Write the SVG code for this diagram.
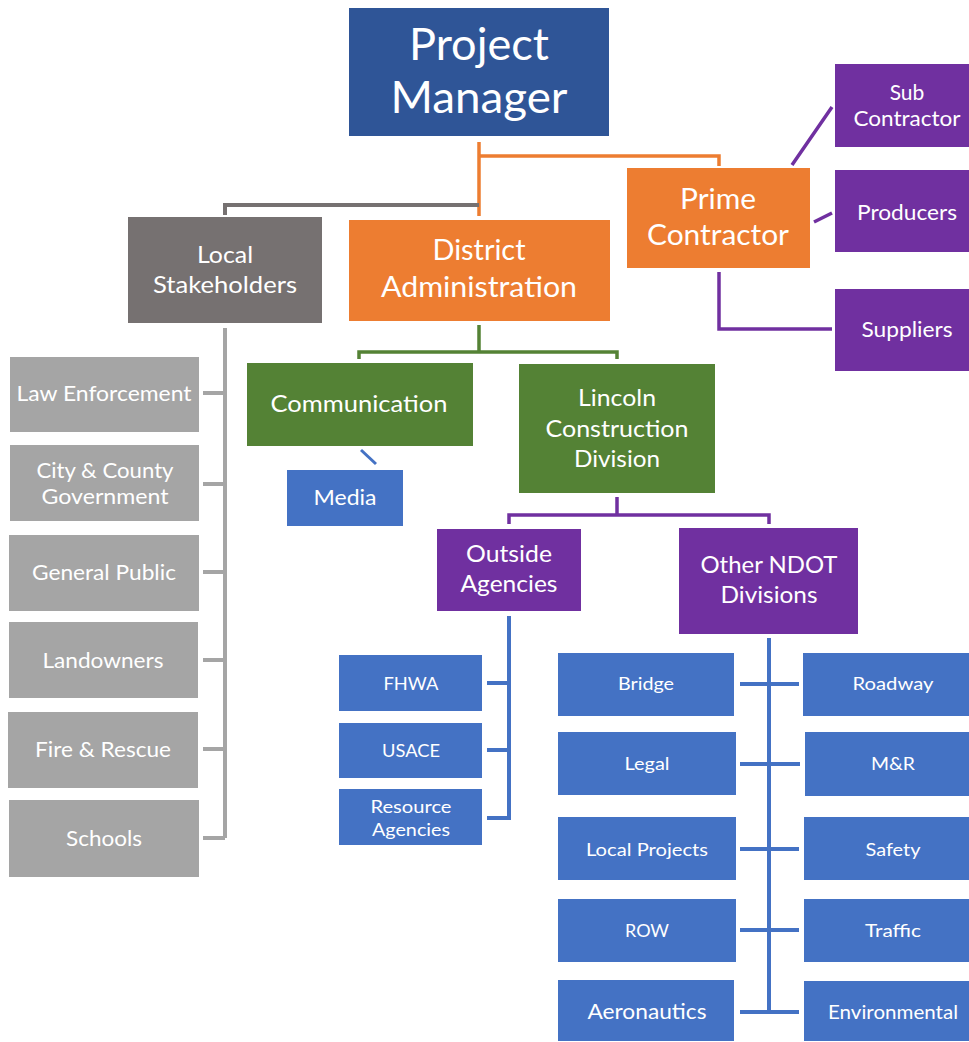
<svg xmlns="http://www.w3.org/2000/svg" width="969" height="1042" viewBox="0 0 969 1042">
<style>
text{font-family:Lato,"Open Sans","Liberation Sans",sans-serif;fill:#fff;text-anchor:middle}
.c{fill:none;stroke-linejoin:miter;stroke-linecap:butt}
.or{stroke:#ED7D31;stroke-width:3.5}
.dg{stroke:#767171;stroke-width:4}
.lg{stroke:#A5A5A5;stroke-width:4}
.gr{stroke:#548235;stroke-width:3.5}
.pu{stroke:#7030A0;stroke-width:3.5}
.bl{stroke:#4472C4;stroke-width:4}
.pm{fill:#2F5597}
.ls{fill:#767171}
.o{fill:#ED7D31}
.g{fill:#548235}
.p{fill:#7030A0}
.b{fill:#4472C4}
.y{fill:#A5A5A5}
</style>
<rect width="969" height="1042" fill="#fff"/>
<g id="connectors">
<path class="c or" d="M479,142 V216 M479,156 H719 V166"/>
<path class="c dg" d="M479,205 H225 V215"/>
<path class="c lg" d="M225,328 V838 M203,393 H225 M203,484 H225 M203,572 H225 M203,660 H225 M203,749 H225 M203,838 H225"/>
<path class="c gr" d="M479,325 V352 M359,359 V352 H617 V359"/>
<path class="c bl" d="M361,450 L376,464" style="stroke-width:3"/>
<path class="c pu" d="M617,497 V515 M509,524 V515 H769 V524"/>
<path class="c pu" d="M792,165 L832,107 M814,222 L832,213 M719,272 V329 H832"/>
<path class="c bl" d="M509,616 V820 M487,683 H509 M487,750 H509 M487,818 H509"/>
<path class="c bl" d="M769,638 V1012 M740,684 H799 M740,764 H800 M740,849 H799 M740,930 H799 M740,1012 H799"/>
</g>
<g id="project-manager"><rect class="pm" x="349" y="8" width="260" height="128"/><text x="479" y="60" font-size="44" textLength="140" lengthAdjust="spacingAndGlyphs">Project</text><text x="479" y="113" font-size="44" textLength="177" lengthAdjust="spacingAndGlyphs">Manager</text></g>
<g id="local-stakeholders"><rect class="ls" x="128" y="217" width="194" height="106"/><text x="225" y="263" font-size="24" textLength="56" lengthAdjust="spacingAndGlyphs">Local</text><text x="225" y="293" font-size="24" textLength="144" lengthAdjust="spacingAndGlyphs">Stakeholders</text></g>
<g id="district-administration"><rect class="o" x="349" y="220" width="261" height="101"/><text x="479" y="260" font-size="28" textLength="93" lengthAdjust="spacingAndGlyphs">District</text><text x="479" y="297" font-size="28" textLength="196" lengthAdjust="spacingAndGlyphs">Administration</text></g>
<g id="prime-contractor"><rect class="o" x="627" y="168" width="183" height="100"/><text x="718" y="209" font-size="28" textLength="76" lengthAdjust="spacingAndGlyphs">Prime</text><text x="718" y="245" font-size="28" textLength="142" lengthAdjust="spacingAndGlyphs">Contractor</text></g>
<g id="sub-contractor"><rect class="p" x="835" y="64" width="134" height="83"/><text x="907" y="100" font-size="21">Sub</text><text x="907" y="126" font-size="21" textLength="107" lengthAdjust="spacingAndGlyphs">Contractor</text></g>
<g id="producers"><rect class="p" x="835" y="170" width="134" height="82"/><text x="907" y="220" font-size="21" textLength="100" lengthAdjust="spacingAndGlyphs">Producers</text></g>
<g id="suppliers"><rect class="p" x="835" y="289" width="134" height="82"/><text x="907" y="337" font-size="21" textLength="91" lengthAdjust="spacingAndGlyphs">Suppliers</text></g>
<g id="law-enforcement"><rect class="y" x="10" y="357" width="189" height="75"/><text x="104" y="401" font-size="21" textLength="175" lengthAdjust="spacingAndGlyphs">Law Enforcement</text></g>
<g id="city-county-government"><rect class="y" x="10" y="445" width="189" height="76"/><text x="105" y="478" font-size="21" textLength="137" lengthAdjust="spacingAndGlyphs">City &amp; County</text><text x="105" y="504" font-size="21" textLength="127" lengthAdjust="spacingAndGlyphs">Government</text></g>
<g id="general-public"><rect class="y" x="9" y="535" width="190" height="76"/><text x="104" y="580" font-size="21" textLength="144" lengthAdjust="spacingAndGlyphs">General Public</text></g>
<g id="landowners"><rect class="y" x="9" y="622" width="189" height="76"/><text x="103" y="668" font-size="21" textLength="121" lengthAdjust="spacingAndGlyphs">Landowners</text></g>
<g id="fire-rescue"><rect class="y" x="8" y="712" width="190" height="76"/><text x="103" y="757" font-size="21" textLength="136" lengthAdjust="spacingAndGlyphs">Fire &amp; Rescue</text></g>
<g id="schools"><rect class="y" x="9" y="800" width="190" height="77"/><text x="104" y="846" font-size="21" textLength="76" lengthAdjust="spacingAndGlyphs">Schools</text></g>
<g id="communication"><rect class="g" x="247" y="363" width="226" height="83"/><text x="359" y="412" font-size="24" textLength="177" lengthAdjust="spacingAndGlyphs">Communication</text></g>
<g id="media"><rect class="b" x="287" y="470" width="116" height="56"/><text x="345" y="505" font-size="21" textLength="63" lengthAdjust="spacingAndGlyphs">Media</text></g>
<g id="lincoln-construction-division"><rect class="g" x="519" y="364" width="196" height="129"/><text x="617" y="406" font-size="24" textLength="78" lengthAdjust="spacingAndGlyphs">Lincoln</text><text x="617" y="437" font-size="24" textLength="143" lengthAdjust="spacingAndGlyphs">Construction</text><text x="617" y="467" font-size="24" textLength="86" lengthAdjust="spacingAndGlyphs">Division</text></g>
<g id="outside-agencies"><rect class="p" x="437" y="529" width="144" height="82"/><text x="509" y="562" font-size="24" textLength="86" lengthAdjust="spacingAndGlyphs">Outside</text><text x="509" y="592" font-size="24" textLength="97" lengthAdjust="spacingAndGlyphs">Agencies</text></g>
<g id="other-ndot-divisions"><rect class="p" x="679" y="528" width="179" height="106"/><text x="769" y="573" font-size="24" textLength="137" lengthAdjust="spacingAndGlyphs">Other NDOT</text><text x="769" y="603" font-size="24" textLength="97" lengthAdjust="spacingAndGlyphs">Divisions</text></g>
<g id="fhwa"><rect class="b" x="339" y="655" width="143" height="56"/><text x="411" y="690" font-size="18" textLength="55" lengthAdjust="spacingAndGlyphs">FHWA</text></g>
<g id="usace"><rect class="b" x="339" y="723" width="143" height="55"/><text x="411" y="757" font-size="18" textLength="58" lengthAdjust="spacingAndGlyphs">USACE</text></g>
<g id="resource-agencies"><rect class="b" x="339" y="789" width="143" height="56"/><text x="411" y="813" font-size="18" textLength="81" lengthAdjust="spacingAndGlyphs">Resource</text><text x="411" y="836" font-size="18" textLength="78" lengthAdjust="spacingAndGlyphs">Agencies</text></g>
<g id="bridge"><rect class="b" x="558" y="653" width="176" height="63"/><text x="646" y="690" font-size="18" textLength="56" lengthAdjust="spacingAndGlyphs">Bridge</text></g>
<g id="roadway"><rect class="b" x="803" y="653" width="166" height="63"/><text x="893" y="690" font-size="18" textLength="81" lengthAdjust="spacingAndGlyphs">Roadway</text></g>
<g id="legal"><rect class="b" x="558" y="732" width="178" height="63"/><text x="647" y="770" font-size="18" textLength="45" lengthAdjust="spacingAndGlyphs">Legal</text></g>
<g id="m-r"><rect class="b" x="805" y="732" width="164" height="64"/><text x="893" y="770" font-size="18" textLength="44" lengthAdjust="spacingAndGlyphs">M&amp;R</text></g>
<g id="local-projects"><rect class="b" x="558" y="817" width="178" height="63"/><text x="647" y="856" font-size="18" textLength="122" lengthAdjust="spacingAndGlyphs">Local Projects</text></g>
<g id="safety"><rect class="b" x="804" y="817" width="165" height="63"/><text x="893" y="856" font-size="18" textLength="55" lengthAdjust="spacingAndGlyphs">Safety</text></g>
<g id="row"><rect class="b" x="558" y="899" width="178" height="63"/><text x="647" y="937" font-size="18" textLength="44" lengthAdjust="spacingAndGlyphs">ROW</text></g>
<g id="traffic"><rect class="b" x="804" y="899" width="165" height="63"/><text x="893" y="937" font-size="18" textLength="56" lengthAdjust="spacingAndGlyphs">Traffic</text></g>
<g id="aeronautics"><rect class="b" x="558" y="980" width="176" height="61"/><text x="647" y="1019" font-size="22" textLength="119" lengthAdjust="spacingAndGlyphs">Aeronautics</text></g>
<g id="environmental"><rect class="b" x="804" y="981" width="165" height="60"/><text x="893" y="1019" font-size="19" textLength="130" lengthAdjust="spacingAndGlyphs">Environmental</text></g>
</svg>
